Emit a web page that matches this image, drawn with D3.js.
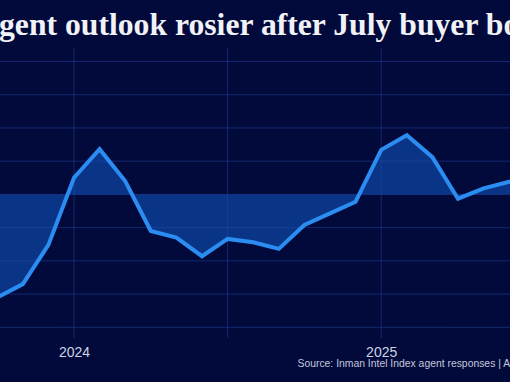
<!DOCTYPE html>
<html>
<head>
<meta charset="utf-8">
<script src="https://cdn.jsdelivr.net/npm/d3@7"></script>
<style>
  html, body { margin: 0; padding: 0; background: #020a3b; }
  svg { display: block; }
</style>
</head>
<body>
<svg id="chart" width="510" height="382"></svg>
<script>
// ---- data ----
const months = ["2023-10","2023-11","2023-12","2024-01","2024-02","2024-03","2024-04","2024-05","2024-06","2024-07","2024-08","2024-09","2024-10","2024-11","2024-12","2025-01","2025-02","2025-03","2025-04","2025-05","2025-06","2025-07"];
const outlook = [34.5, 36.5, 42.4, 52.5, 56.8, 52.0, 44.5, 43.5, 40.7, 43.3, 42.8, 41.8, 45.4, 47.15, 48.9, 56.7, 58.9, 55.6, 49.35, 50.9, 51.9, 52.1];
const baselineValue = [50];
const yTicks = [30, 35, 40, 45, 50, 55, 60, 65, 70];
const gridMonths = ["2024-01", "2024-07", "2025-01", "2025-07"];
const yearTicks = ["2024-01", "2025-01"];
const yearLabels = ["2024", "2025"];
const titleText = ["Agent outlook rosier after July buyer boost"];
const sourceText = ["Source: Inman Intel Index agent responses | August 2025"];

const data = months.map((m, i) => ({ m, v: outlook[i] }));

const svg = d3.select("#chart");
svg.append("rect").attr("width", 510).attr("height", 382).attr("fill", "#020a3b");

const x = d3.scalePoint().domain(months).range([-2.8, 534.8]);
const y = d3.scaleLinear().domain([30, 70]).range([327.3, 61.5]);

// fill between line and baseline
const area = d3.area()
  .x(d => x(d.m))
  .y0(y(baselineValue[0]))
  .y1(d => y(d.v));
svg.append("path").datum(data).attr("d", area).attr("fill", "#0a3486");

// gridlines
const grid = svg.append("g");
grid.selectAll("line.h").data(yTicks).join("line")
  .attr("class", "h")
  .attr("x1", -10).attr("x2", 520)
  .attr("y1", d => y(d)).attr("y2", d => y(d))
  .attr("stroke", "#2a4bb0").attr("stroke-opacity", 0.45).attr("stroke-width", 1);
grid.selectAll("line.v").data(gridMonths).join("line")
  .attr("class", "v")
  .attr("x1", d => x(d)).attr("x2", d => x(d))
  .attr("y1", 48).attr("y2", 338)
  .attr("stroke", "#2a4bb0").attr("stroke-opacity", 0.45).attr("stroke-width", 1);

// line
const line = d3.line().x(d => x(d.m)).y(d => y(d.v));
svg.append("path").datum(data).attr("d", line)
  .attr("fill", "none").attr("stroke", "#2b8cf2")
  .attr("stroke-width", 4).attr("stroke-linejoin", "miter").attr("stroke-linecap", "butt");

// x axis labels
const xAxis = d3.axisBottom(x).tickValues(yearTicks)
  .tickFormat((d, i) => yearLabels[i]).tickSize(0).tickPadding(0);
const ax = svg.append("g").attr("transform", "translate(0,346)").call(xAxis);
ax.select(".domain").remove();
ax.selectAll("text")
  .attr("dy", 0).attr("y", 11)
  .attr("font-family", "'Liberation Sans', Arial, sans-serif")
  .attr("font-size", 14).attr("fill", "#cdd2e6");

// title
const title = svg.append("text")
  .text(titleText[0])
  .attr("y", 35)
  .attr("font-family", "'Liberation Serif', 'DejaVu Serif', serif")
  .attr("font-weight", "bold")
  .attr("font-size", 30)
  .attr("fill", "#f1f2f7");
{
  const node = title.node();
  const L = node.getSubStringLength(1, 37);
  const fs = 30 * 487 / L;
  title.attr("font-size", fs);
  const a = node.getSubStringLength(0, 1);
  title.attr("x", -1 - a);
}

// source
const src = svg.append("text")
  .text(sourceText[0])
  .attr("x", 297.5).attr("y", 367)
  .attr("font-family", "'Liberation Sans', Arial, sans-serif")
  .attr("font-size", 11)
  .attr("fill", "#c3c8dd");
{
  const node = src.node();
  const L = node.getSubStringLength(0, 42);
  const fs = 11 * 201 / L;
  src.attr("font-size", fs);
}
</script>
</body>
</html>
